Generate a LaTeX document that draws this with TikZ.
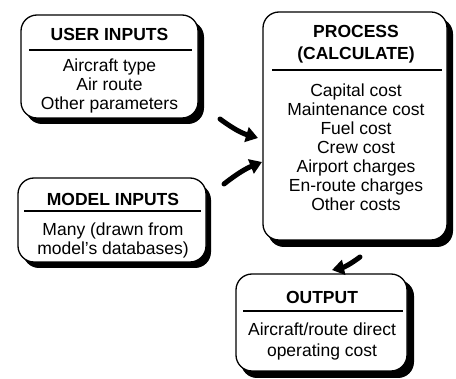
\documentclass[tikz,border=0pt]{standalone}
\usepackage{fontspec}
\setmainfont{Liberation Sans}
\usepackage{tikz}
\usetikzlibrary{arrows.meta,calc,positioning}

\begin{document}
\begin{tikzpicture}[x=1pt,y=-1pt,
    box/.style={draw=black,fill=white,line width=1.3pt,rounded corners=16pt},
    shade/.style={fill=black,rounded corners=16pt},
    heading/.style={font=\fontsize{17.5}{22}\selectfont\bfseries,align=center},
    body/.style={font=\fontsize{17.5}{19}\selectfont,align=center},
    rule/.style={line width=1.3pt},
    fatarrow/.style={line width=5pt,line cap=round,-{Triangle[length=12pt,width=15pt]}}]
        \useasboundingbox (0,0) rectangle (456,379);
        % Draw the shadows
        \fill[shade] (26,21) rectangle (204,124);
        \fill[shade] (268,18) rectangle (453,247);
        \fill[shade] (23,184) rectangle (211,268);
        \fill[shade] (241,280) rectangle (414,378);
        % boxes
        \node[box,minimum width=177pt,minimum height=103pt] (user) at (109.5,66.5) {};
        \node[box,minimum width=184pt,minimum height=228pt] (process) at (355,126) {};
        \node[box,minimum width=188pt,minimum height=84pt] (model) at (112,220) {};
        \node[box,minimum width=171pt,minimum height=97pt] (output) at (321.5,322.5) {};
        % texts
        \node[heading] (usertitle) at (109.5,34) {USER INPUTS};
        \node[body] (userbody) at (109.5,86) {Aircraft type\\Air route\\Other parameters};
        \node[heading] (proctitle) at (356,44) {PROCESS\\(CALCULATE)};
        \node[body] (procbody) at (356,147) {Capital cost\\Maintenance cost\\Fuel cost\\Crew cost\\Airport charges\\En-route charges\\Other costs};
        \node[heading] (modeltitle) at (113,199) {MODEL INPUTS};
        \node[body] (modelbody) at (113,240) {Many (drawn from\\model's databases)};
        \node[heading] (outtitle) at (322,297) {OUTPUT};
        \node[body,font=\fontsize{17.5}{21}\selectfont] (outbody) at (322,341.5) {Aircraft/route direct\\operating cost};
        % rules
        \draw[rule] (29,50) -- (192,50);
        \draw[rule] (272,70) -- (442,70);
        \draw[rule] (24,211) -- (201,211);
        \draw[rule] (243,311) -- (403,311);
        % arrows
        \coordinate (a1s) at (220,119);
        \coordinate (a1e) at (258,138);
        \coordinate (a2s) at (224,184);
        \coordinate (a2e) at (262,162);
        \coordinate (a3s) at (360,257);
        \coordinate (a3e) at (332,270);
        \draw[fatarrow] (a1s) to[bend right=10] (a1e);
        \draw[fatarrow] (a2s) to[bend left=8] (a2e);
        \draw[fatarrow] (a3s) to[bend left=12] (a3e);
\end{tikzpicture}
\end{document}
